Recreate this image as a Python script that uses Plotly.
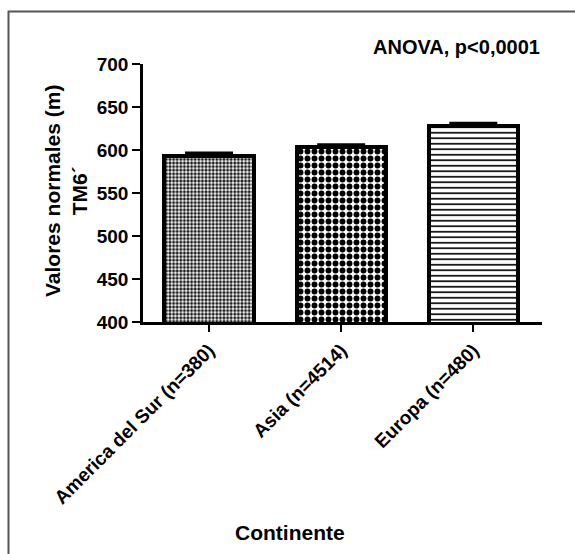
import plotly.graph_objects as go

categories = ["America del Sur (n=380)", "Asia (n=4514)", "Europa (n=480)"]
means = [593, 604, 628]
sem_upper = [3, 1.5, 2.5]
y_ticks = [400, 450, 500, 550, 600, 650, 700]

FONT = "Liberation Sans"

shapes_pat = [
    dict(shape=".", size=3.6, solidity=0.55, fgcolor="#1a1a1a", bgcolor="white", fillmode="replace"),
    dict(shape=".", size=7, solidity=0.55, fgcolor="black", bgcolor="white", fillmode="replace"),
    dict(shape="-", size=5.5, solidity=0.3, fgcolor="black", bgcolor="white", fillmode="replace"),
]

fig = go.Figure()
for i, cat in enumerate(categories):
    fig.add_trace(go.Bar(
        x=[cat], y=[means[i]],
        width=0.675,
        marker=dict(color="white", line=dict(color="black", width=4), pattern=shapes_pat[i]),
        error_y=dict(type="data", symmetric=False, array=[sem_upper[i]], arrayminus=[0],
                     color="black", thickness=4, width=24),
        showlegend=False,
    ))

fig.update_layout(
    width=575, height=554,
    margin=dict(l=143, r=33, t=64, b=232),
    paper_bgcolor="white", plot_bgcolor="white",
    font=dict(family=FONT, color="black"),
    bargap=0,
    xaxis=dict(
        type="category", range=[-0.5, 2.52],
        showline=True, linecolor="black", linewidth=2.5,
        ticks="outside", ticklen=7, tickwidth=2, tickcolor="black",
        tickangle=-45, tickfont=dict(family=FONT, size=19, weight="bold"),
        showgrid=False, zeroline=False,
    ),
    yaxis=dict(
        range=[400, 700], tickvals=y_ticks,
        showline=True, linecolor="black", linewidth=2.5,
        ticks="outside", ticklen=8, tickwidth=2, tickcolor="black",
        tickfont=dict(family=FONT, size=19, weight="bold"),
        showgrid=False, zeroline=False,
    ),
    annotations=[
        dict(text="ANOVA, p<0,0001", xref="paper", yref="paper", x=1.0, y=(322 - 47) / 258,
             xanchor="right", yanchor="middle", showarrow=False,
             font=dict(family=FONT, size=20, weight="bold")),
        dict(text="Continente", xref="paper", yref="paper", x=(290 - 143) / 399, y=(322 - 532) / 258,
             xanchor="center", yanchor="middle", showarrow=False,
             font=dict(family=FONT, size=21, weight="bold")),
        dict(text="Valores normales (m)<br>TM6´", xref="paper", yref="paper",
             x=(66 - 143) / 399, y=(322 - 191) / 258, textangle=-90,
             xanchor="center", yanchor="middle", showarrow=False, align="center",
             font=dict(family=FONT, size=21, weight="bold")),
    ],
    shapes=[
        dict(type="rect", xref="paper", yref="paper",
             x0=(8.5 - 143) / 399, x1=1.3, y0=-1.2, y1=(322 - 11.5) / 258,
             line=dict(color="#555555", width=2), fillcolor="rgba(0,0,0,0)", layer="below"),
    ],
)

fig.write_html("out.html", config={"displayModeBar": False},
               post_script="document.body.style.margin='0px';document.body.style.overflow='hidden';")
